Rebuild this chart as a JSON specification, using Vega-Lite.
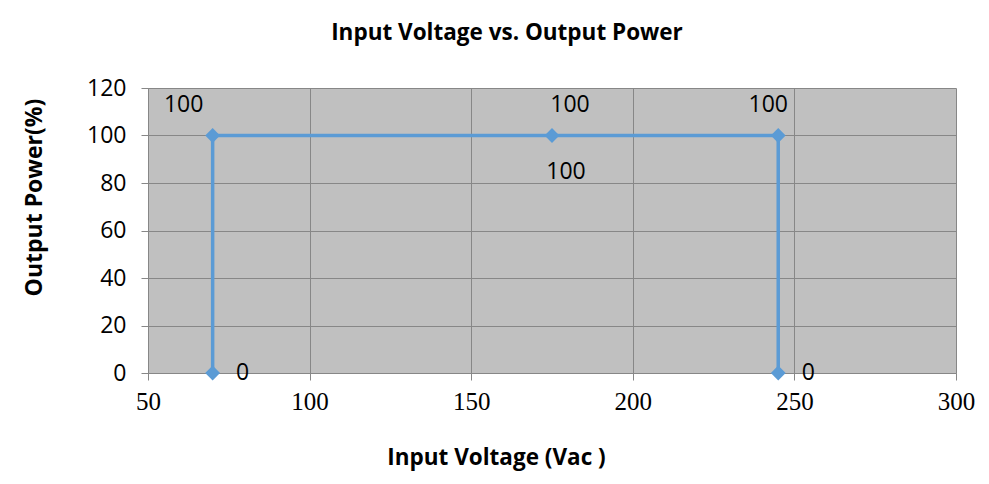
{
  "$schema": "https://vega.github.io/schema/vega-lite/v6.json",
  "autosize": "none",
  "width": 808,
  "height": 285,
  "padding": {"left": 148, "top": 88, "right": 33, "bottom": 111},
  "background": "white",
  "title": {
    "text": "Input Voltage vs. Output Power",
    "font": "Open Sans",
    "fontSize": 22.5,
    "fontWeight": "bold",
    "color": "#000000",
    "anchor": "middle",
    "dx": -45,
    "offset": 10,
    "baseline": "bottom"
  },
  "config": {
    "view": {"fill": "#c0c0c0", "stroke": null}
  },
  "data": {
    "values": [
      {"i": 1, "x": 70, "v": 0},
      {"i": 2, "x": 70, "v": 100},
      {"i": 3, "x": 175, "v": 100},
      {"i": 4, "x": 245, "v": 100},
      {"i": 5, "x": 245, "v": 0}
    ]
  },
  "encoding": {
    "x": {
      "field": "x",
      "type": "quantitative",
      "scale": {"domain": [50, 300], "nice": false, "zero": false},
      "axis": {
        "title": "Input Voltage (Vac )",
        "values": [50, 100, 150, 200, 250, 300],
        "grid": true,
        "gridColor": "#878787",
        "gridWidth": 1,
        "domainColor": "#878787",
        "tickColor": "#878787",
        "tickSize": 7,
        "labelFlush": false,
        "labelFont": "Liberation Serif",
        "labelFontSize": 25,
        "labelColor": "#000000",
        "labelPadding": 9,
        "titleFont": "Open Sans",
        "titleFontSize": 22.5,
        "titleFontWeight": "bold",
        "titleColor": "#000000",
        "titlePadding": 32,
        "titleX": 348
      }
    },
    "y": {
      "field": "v",
      "type": "quantitative",
      "scale": {"domain": [0, 120], "nice": false},
      "axis": {
        "title": "Output Power(%)",
        "values": [0, 20, 40, 60, 80, 100, 120],
        "grid": true,
        "gridColor": "#878787",
        "gridWidth": 1,
        "domainColor": "#878787",
        "tickColor": "#878787",
        "tickSize": 7,
        "labelFlush": false,
        "labelFont": "Open Sans",
        "labelFontSize": 23,
        "labelColor": "#000000",
        "labelPadding": 15,
        "titleFont": "Open Sans",
        "titleFontSize": 23,
        "titleFontWeight": "bold",
        "titleColor": "#000000",
        "titlePadding": 40,
        "titleY": 109
      }
    }
  },
  "layer": [
    {
      "mark": {"type": "line", "color": "#5b9bd5", "strokeWidth": 3.5},
      "encoding": {"order": {"field": "i", "type": "quantitative"}}
    },
    {
      "mark": {"type": "point", "shape": "diamond", "filled": true, "color": "#5b9bd5", "size": 220, "opacity": 1}
    },
    {
      "transform": [{"filter": "datum.v == 0"}],
      "mark": {"type": "text", "font": "Open Sans", "fontSize": 23, "color": "#000000", "dx": 30, "baseline": "middle", "align": "center"},
      "encoding": {"text": {"field": "v", "type": "quantitative"}}
    },
    {
      "transform": [{"filter": "datum.x == 70 && datum.v == 100"}],
      "mark": {"type": "text", "font": "Open Sans", "fontSize": 23, "color": "#000000", "dx": -29, "dy": -31, "baseline": "middle", "align": "center"},
      "encoding": {"text": {"field": "v", "type": "quantitative"}}
    },
    {
      "transform": [{"filter": "datum.x == 175"}],
      "mark": {"type": "text", "font": "Open Sans", "fontSize": 23, "color": "#000000", "dx": 18, "dy": -31, "baseline": "middle", "align": "center"},
      "encoding": {"text": {"field": "v", "type": "quantitative"}}
    },
    {
      "transform": [{"filter": "datum.x == 175"}],
      "mark": {"type": "text", "font": "Open Sans", "fontSize": 23, "color": "#000000", "dx": 14, "dy": 36, "baseline": "middle", "align": "center"},
      "encoding": {"text": {"field": "v", "type": "quantitative"}}
    },
    {
      "transform": [{"filter": "datum.x == 245 && datum.v == 100"}],
      "mark": {"type": "text", "font": "Open Sans", "fontSize": 23, "color": "#000000", "dx": -10, "dy": -31, "baseline": "middle", "align": "center"},
      "encoding": {"text": {"field": "v", "type": "quantitative"}}
    }
  ]
}
